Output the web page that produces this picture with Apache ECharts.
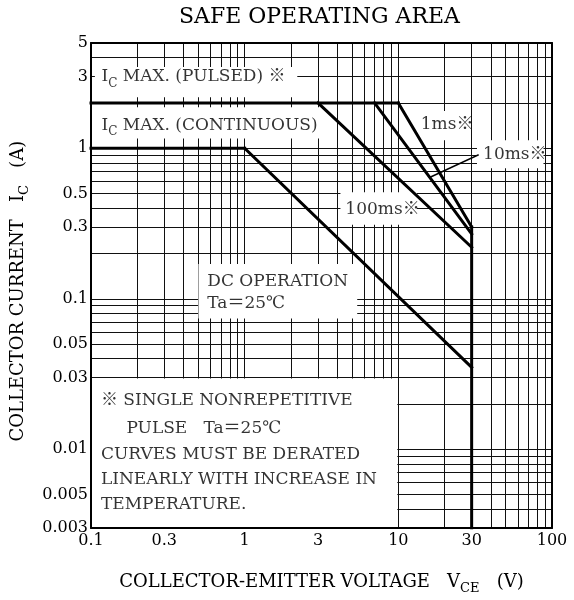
<!DOCTYPE html>
<html><head><meta charset="utf-8">
<script src="https://cdn.jsdelivr.net/npm/echarts@6/dist/echarts.min.js"></script>
<style>html,body{margin:0;padding:0;background:#fff}#c{width:574px;height:600px}</style>
</head><body><div id="c"></div>
<script>
// ---- data ----
const xTickLabels = [0.1, 0.3, 1, 3, 10, 30, 100];
const yTickLabels = [0.003, 0.005, 0.01, 0.03, 0.05, 0.1, 0.3, 0.5, 1, 3, 5];
const pulsedMax   = [[0.1, 2], [10, 2]];
const contMax     = [[0.1, 1], [1, 1]];
const dcOperation = [[1, 1], [30, 0.035]];
const pulse100ms  = [[3, 2], [30, 0.22]];
const pulse10ms   = [[7, 2], [30, 0.27]];
const pulse1ms    = [[10, 2], [30, 0.3]];
const vceLimit    = [[30, 0.3], [30, 0.003]];
const leader10ms  = [[33, 0.9], [16, 0.64]];

// log grid positions (1..9 per decade)
const gridX = [];
[0.1, 1, 10].forEach(d => { for (let m = 1; m <= 9; m++) gridX.push(+(m * d).toPrecision(3)); });
gridX.push(100);
const gridY = [];
[0.001, 0.01, 0.1, 1].forEach(d => { for (let m = 1; m <= 9; m++) { const v = +(m * d).toPrecision(3); if (v >= 0.003 && v <= 5) gridY.push(v); } });

const FONT = '"DejaVu Serif", "Liberation Serif", "Noto Sans CJK JP", serif';
const FS = 17;
const rich = {
  m: { fontFamily: FONT, fontSize: FS, color: '#000', lineHeight: 26, verticalAlign: 'middle' },
  s: { fontFamily: FONT, fontSize: 12, color: '#000', lineHeight: 26, verticalAlign: 'bottom' }
};
const richName = {
  m: { fontFamily: FONT, fontSize: 18, color: '#000', lineHeight: 26, verticalAlign: 'middle' },
  s: { fontFamily: FONT, fontSize: 13, color: '#000', lineHeight: 26, verticalAlign: 'bottom' }
};

const chart = echarts.init(document.getElementById('c'), null, { renderer: 'canvas' });

function lineSeries(name, data, width) {
  return { name, type: 'line', data, xAxisIndex: 0, yAxisIndex: 0, symbol: 'none', z: 5,
    lineStyle: { color: '#000', width: width || 3, cap: 'square' }, silent: true, animation: false };
}

const masks = [
  [0.106, 2.18, 2.2, 3.47],     // pulsed label
  [0.1, 1.16, 3.3, 1.87],       // continuous label
  [13.5, 1.13, 29, 1.77],       // 1ms
  [32.5, 0.737, 88, 1.13],      // 10ms
  [4.2, 0.31, 13.2, 0.51],      // 100ms
  [0.5, 0.074, 5.4, 0.17],      // DC operation
  [0.1, 0.003, 9.85, 0.0295]    // note
];

const texts = [
  [0.117, 3.0, '{m|I}{s|C}{m| MAX. (PULSED) ※}'],
  [0.117, 1.42, '{m|I}{s|C}{m| MAX. (CONTINUOUS)}'],
  [14.0, 1.43, '{m|1ms※}'],
  [35.6, 0.91, '{m|10ms※}'],
  [4.52, 0.39, '{m|100ms※}'],
  [0.571, 0.1295, '{m|DC OPERATION}'],
  [0.571, 0.0933, '{m|Ta＝25℃}'],
  [0.116, 0.021, '{m|※ SINGLE NONREPETITIVE}'],
  [0.17, 0.01374, '{m|PULSE   Ta＝25℃}'],
  [0.116, 0.00919, '{m|CURVES MUST BE DERATED}'],
  [0.116, 0.0063, '{m|LINEARLY WITH INCREASE IN}'],
  [0.116, 0.00432, '{m|TEMPERATURE.}']
];

const baseX = { type: 'log', logBase: 10, min: 0.1, max: 100, gridIndex: 0 };
const baseY = { type: 'log', logBase: 10, min: 0.003, max: 5, gridIndex: 0 };

const option = {
  animation: false,
  backgroundColor: '#fff',
  grid: { left: 91, right: 22, top: 43, bottom: 63, containLabel: false },
  graphic: [{
    type: 'text', left: 179, top: 6,
    style: { text: 'SAFE OPERATING AREA', font: '22px ' + FONT, fill: '#000' }
  }],
  xAxis: [
    Object.assign({}, baseX, {
      position: 'bottom', z: 10,
      axisLine: { show: true, onZero: false, lineStyle: { color: '#000', width: 2 } },
      axisTick: { show: false },
      splitLine: { show: false },
      axisLabel: { customValues: xTickLabels, margin: 5, fontFamily: FONT, fontSize: 16, color: '#000',
        formatter: v => String(+(+v).toPrecision(3)) },
      name: '{m|COLLECTOR-EMITTER VOLTAGE   V}{s|CE}{m|   (V)}',
      nameLocation: 'middle', nameGap: 41,
      nameTextStyle: { rich: richName }
    }),
    Object.assign({}, baseX, {
      position: 'top', z: 10,
      axisLine: { show: true, onZero: false, lineStyle: { color: '#000', width: 2 } },
      axisTick: { show: false }, axisLabel: { show: false }, splitLine: { show: false }
    }),
    Object.assign({}, baseX, {
      position: 'bottom', z: 0,
      axisLine: { show: false }, axisLabel: { show: false },
      axisTick: { show: false, customValues: gridX },
      splitLine: { show: true, lineStyle: { color: '#111', width: 1 } }
    })
  ],
  yAxis: [
    Object.assign({}, baseY, {
      position: 'left', z: 10,
      axisLine: { show: true, onZero: false, lineStyle: { color: '#000', width: 2 } },
      axisTick: { show: false },
      splitLine: { show: false },
      axisLabel: { customValues: yTickLabels, margin: 3, fontFamily: FONT, fontSize: 16, color: '#000',
        formatter: v => String(+(+v).toPrecision(3)) },
      name: '{m|COLLECTOR CURRENT   I}{s|C}{m|   (A)  }',
      nameLocation: 'middle', nameGap: 60, nameRotate: 90,
      nameTextStyle: { rich: richName }
    }),
    Object.assign({}, baseY, {
      position: 'right', z: 10,
      axisLine: { show: true, onZero: false, lineStyle: { color: '#000', width: 2 } },
      axisTick: { show: false }, axisLabel: { show: false }, splitLine: { show: false }
    }),
    Object.assign({}, baseY, {
      position: 'left', z: 0,
      axisLine: { show: false }, axisLabel: { show: false },
      axisTick: { show: false, customValues: gridY },
      splitLine: { show: true, lineStyle: { color: '#111', width: 1 } }
    })
  ],
  series: [
    {
      type: 'custom', name: 'masks', xAxisIndex: 0, yAxisIndex: 0, z: 2, silent: true,
      encode: { x: [0, 2], y: [1, 3] },
      data: masks,
      renderItem: (params, api) => {
        const p1 = api.coord([api.value(0), api.value(1)]);
        const p2 = api.coord([api.value(2), api.value(3)]);
        return { type: 'rect',
          shape: { x: Math.min(p1[0], p2[0]), y: Math.min(p1[1], p2[1]),
                   width: Math.abs(p2[0] - p1[0]), height: Math.abs(p2[1] - p1[1]) },
          style: { fill: '#fff' } };
      }
    },
    lineSeries('Ic max pulsed', pulsedMax),
    lineSeries('Ic max continuous', contMax),
    lineSeries('DC operation', dcOperation),
    lineSeries('100ms', pulse100ms),
    lineSeries('10ms', pulse10ms),
    lineSeries('1ms', pulse1ms),
    lineSeries('VCE limit', vceLimit),
    lineSeries('10ms leader', leader10ms, 1.5),
    {
      type: 'scatter', name: 'texts', xAxisIndex: 0, yAxisIndex: 0, z: 6, silent: true,
      symbolSize: 1, itemStyle: { color: 'rgba(0,0,0,0)' },
      data: texts.map(t => ({ value: [t[0], t[1]],
        label: { show: true, position: 'inside', align: 'left', verticalAlign: 'middle',
          color: '#000', formatter: t[2], rich } }))
    }
  ]
};
chart.setOption(option);
</script>
</body></html>
